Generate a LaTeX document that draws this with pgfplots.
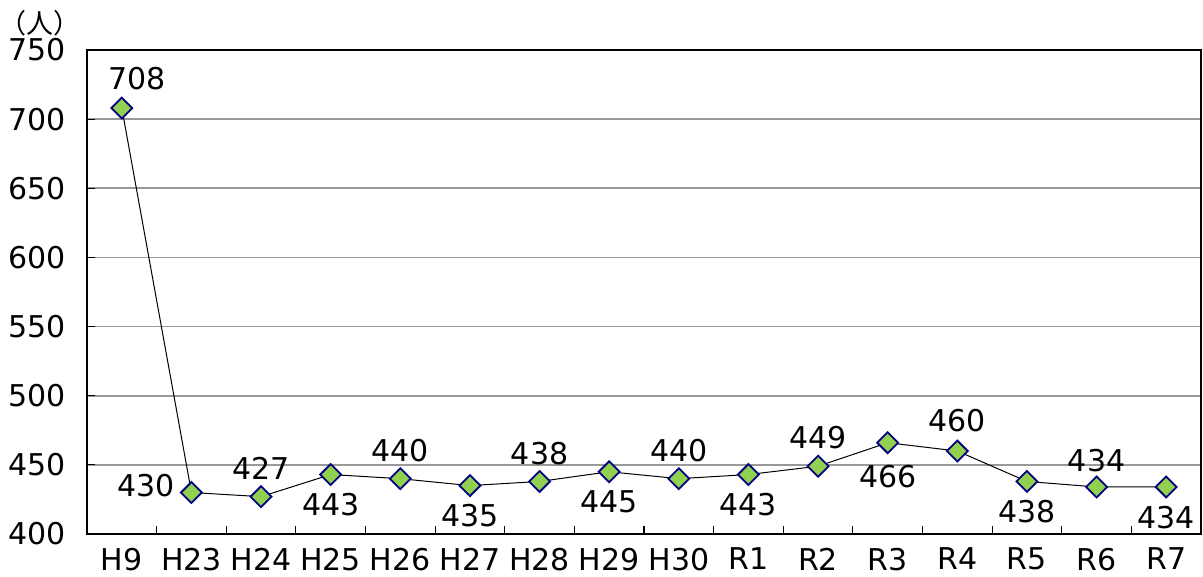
\documentclass[border=0pt]{standalone}
\usepackage{fontspec}
\setmainfont{DejaVu Sans}
\newfontfamily\jp{Noto Sans CJK JP}
\usepackage{pgfplots}
\pgfplotsset{compat=1.18}
\definecolor{markgreen}{HTML}{92D050}
\definecolor{marknavy}{HTML}{000080}
\definecolor{gridgray}{HTML}{999999}

\newcommand\lblfont{\fontsize{15pt}{18pt}\selectfont}

\begin{document}
\begin{tikzpicture}
    \begin{axis}[
    scale only axis,
    width=557pt, height=242pt,
    xmin=-0.5, xmax=15.5,
    ymin=400, ymax=750,
    ytick={400,450,...,750},
    xtick={0,...,15},
    xticklabels={H9,H23,H24,H25,H26,H27,H28,H29,H30,R1,R2,R3,R4,R5,R6,R7},
    minor x tick num=1,
    xtick pos=bottom, ytick pos=left,
    tick align=inside,
    major x tick style={draw=none},
    minor tick length=4pt,
    major tick length=4pt,
    tick style={black, line width=0.6pt},
    ymajorgrids=true,
    grid style={gridgray, line width=0.8pt},
    axis line style={black, line width=1.3pt},
    /pgf/number format/assume math mode=true,
    tick label style={font=\lblfont},
    xticklabel style={yshift=-3.5pt},
    yticklabel style={xshift=-7pt},
    clip=false,
    ]
    \addplot[black, line width=0.5pt,
        mark=square*, mark size=3.7pt,
        mark options={draw=marknavy, fill=markgreen, line width=0.9pt, rotate=45},
        point meta=explicit symbolic,
        nodes near coords,
        visualization depends on={value \thisrow{a} \as \lanc},
        visualization depends on={\thisrow{dx} \as \ldx},
        visualization depends on={\thisrow{dy} \as \ldy},
        every node near coord/.append style={font=\lblfont, black, inner sep=0pt,
            anchor=\lanc, xshift=\ldx pt, yshift=\ldy pt},
    ] table[x=x, y=y, meta=y] {
x y a dx dy
0 708 south 7.5 8.5
1 430 east -8 3.5
2 427 south 0 8
3 443 north 0 -9
4 440 south 0 8
5 435 north 0 -9
6 438 south 0 8
7 445 north 0 -9
8 440 south 0 8
9 443 north 0 -9
10 449 south 0 8
11 466 north 0 -11
12 460 south 0 9
13 438 north 0 -9
14 434 south 0 7
15 434 north 0 -9
    };
    \node[font=\jp\fontsize{13.5pt}{15pt}\selectfont, anchor=center, inner sep=0pt]
        at (axis description cs:-0.042,1.056) {（人）};
    \end{axis}
    \pgfresetboundingbox
    \path ([xshift=-43.5pt,yshift=-21.5pt]current axis.south west)
        rectangle ([xshift=1pt,yshift=25pt]current axis.north east);
\end{tikzpicture}
\end{document}
